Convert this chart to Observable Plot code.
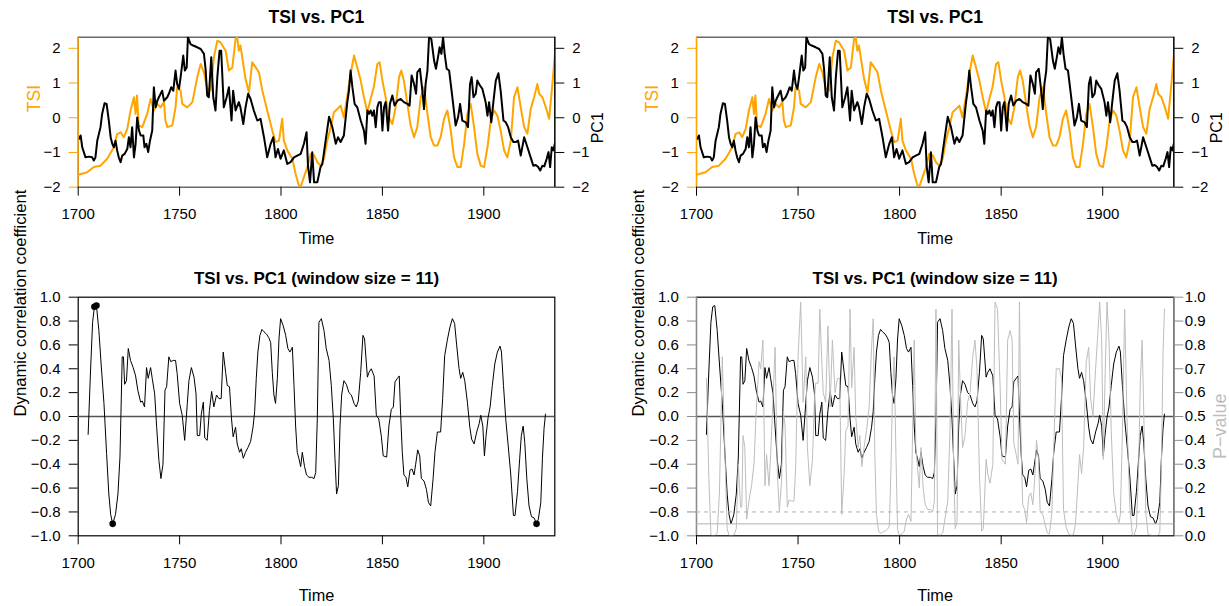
<!DOCTYPE html>
<html><head><meta charset="utf-8">
<script src="https://cdn.jsdelivr.net/npm/d3@7"></script>
<script src="https://cdn.jsdelivr.net/npm/@observablehq/plot@0.6"></script>
<style>
body{margin:0;background:#fff;}
#root{position:relative;width:1229px;height:606px;overflow:hidden;background:#fff;}
</style></head><body><div id="root"></div>
<script>
// ---------- data ----------
const tsiYears=[1700,1704.4,1707.7,1711,1714.3,1717.6,1719.2,1721,1722.5,1724.2,1725.8,1727.5,1728.3,1729,1729.8,1731.6,1734,1735.7,1737.3,1739,1740.6,1742.3,1743,1744,1746.4,1748,1748.8,1750.5,1751.3,1753.8,1756.3,1758.7,1760.4,1762,1763.5,1765.3,1766.9,1768.6,1770.2,1772.7,1774.3,1776,1777.6,1778.4,1779.2,1780,1782.5,1784.2,1785.8,1787.5,1789.1,1790.8,1793.2,1795.7,1797.3,1799,1800.6,1801.4,1803.1,1805.6,1807.2,1808.8,1809.7,1811.3,1813,1814.6,1816.3,1817.9,1819.5,1821.2,1822.8,1824.5,1826.1,1827.8,1829.4,1831,1832.7,1834.3,1836,1837.6,1839.3,1840.9,1842.6,1844.2,1845.8,1847.5,1848.6,1850,1851.6,1853.2,1854.9,1856.5,1858.2,1859.3,1860.6,1862.3,1863.9,1865.6,1867.2,1868.9,1870.5,1872.2,1873.8,1875.5,1877.1,1878.7,1880.4,1882,1883.7,1885.3,1887,1888.6,1890.3,1891.9,1893.5,1895.2,1896.8,1898.5,1900.1,1901.8,1903.4,1905.1,1906.7,1908.3,1910,1911.6,1913.3,1914.9,1916.6,1918.2,1919.9,1921.5,1923.1,1924.8,1926.4,1927.3,1928.9,1930.6,1932.2,1933.8,1935];
const tsiValues=[-1.64,-1.57,-1.42,-1.38,-1.18,-0.85,-0.47,-0.42,-0.56,-0.32,0.21,0.59,0.11,0.64,-0.22,-0.27,0.11,0.54,0.21,0.40,0.30,0.45,-0.08,-0.27,-0.22,0.30,0.88,0.78,0.40,0.30,0.45,1.17,1.55,1.31,0.86,0.78,1.74,2.22,2.17,1.93,1.36,1.45,2.27,2.32,1.93,2.08,1.12,0.73,1.60,1.45,1.31,0.78,0.21,-0.37,-0.70,-0.66,-0.03,-0.66,-0.94,-1.18,-1.62,-1.95,-1.98,-1.71,-1.42,-1.04,-1.08,-1.28,-1.38,-1.18,-0.66,-0.27,0.16,0.25,0.35,0.01,0.64,1.26,1.79,1.45,1.07,0.59,0.16,0.55,0.90,1.55,1.60,1.07,0.59,0.01,-0.18,0.30,1.17,1.36,1.07,0.40,-0.22,-0.56,-0.27,0.59,0.88,0.11,-0.56,-0.80,-0.80,-0.56,-0.03,0.21,-0.37,-1.14,-1.42,-1.42,-0.75,0.11,0.40,-0.27,-1.04,-1.38,-1.42,-0.85,-0.08,0.21,0.06,-0.37,-0.94,-1.14,-0.66,0.59,0.88,0.30,-0.27,-0.46,0.25,0.59,0.97,0.69,0.59,0.30,-0.03,0.97,1.79];
const pc1Years=[1700.3,1701.2,1702,1703.6,1705.3,1706.9,1707.7,1708.5,1709.4,1711,1711.8,1713,1714,1715.1,1716,1716.8,1717.6,1718.4,1719.2,1720,1720.9,1721.7,1722.9,1724.2,1725,1725.8,1726.6,1727.5,1728.3,1729.1,1730,1730.8,1732.1,1732.7,1733.6,1734.5,1735.4,1736.5,1737.3,1738.2,1739,1739.8,1741.4,1742.3,1743.9,1744.7,1745.9,1746.9,1748,1748.8,1749.7,1750.5,1751.8,1752.6,1753.5,1754.1,1755.4,1756.7,1758.7,1760.4,1762,1762.8,1763.6,1764.4,1765.6,1766.6,1767.7,1768.6,1769.7,1770.5,1771.8,1773.2,1774.3,1775.6,1776.4,1777.6,1779.2,1780,1781.4,1782.5,1783.8,1785,1786.6,1788.3,1789.9,1791.6,1793.2,1794.9,1796.2,1797.3,1798.5,1799.8,1801.4,1803.1,1804.7,1806.4,1808,1809.7,1811.3,1812.6,1813.3,1814.3,1815.4,1816.3,1817.9,1819.5,1820.4,1822,1823.7,1825.3,1827,1828.1,1829.4,1831,1832.7,1833.5,1834.3,1835.2,1836.3,1837.6,1839.3,1840.9,1841.7,1842.6,1843.4,1844.2,1845,1845.8,1846.7,1847.5,1848.3,1849.2,1850,1850.8,1851.6,1852.8,1853.7,1854.9,1856,1857.4,1859,1860.6,1862.3,1863.4,1864.4,1865.6,1866.6,1867.2,1868.5,1869.7,1870.5,1871.3,1872.2,1873,1874.1,1875.5,1876.4,1877.4,1878.2,1879.1,1879.9,1880.7,1881.7,1882.9,1884.5,1886.1,1887.3,1888.3,1889.4,1891.1,1892.2,1893.2,1894,1894.9,1896,1896.8,1898.1,1899.3,1900.9,1901.8,1902.6,1903.7,1904.7,1905.9,1907.2,1908.3,1909.7,1910.8,1912,1913.3,1914.6,1915.7,1916.9,1918.2,1919.9,1921.5,1923.1,1924.4,1925.6,1926.8,1927.8,1928.9,1929.8,1931,1931.9,1932.7,1933.5,1934.3,1935];
const pc1Values=[-0.61,-0.51,-0.85,-1.14,-1.12,-1.14,-1.23,-1.14,-0.66,-0.27,0.11,0.42,0.40,-0.08,-0.56,-0.75,-0.85,-0.66,-0.94,-1.14,-1.28,-1.09,-1.04,-0.90,-0.56,-0.85,-0.27,-1.14,-0.75,0.01,-0.37,-0.51,-0.51,-0.85,-0.75,-0.99,-0.66,-0.37,0.88,0.30,0.49,0.59,0.78,0.49,0.59,0.69,0.88,0.78,1.36,0.97,0.83,1.17,1.79,1.36,1.45,2.32,2.12,2.08,2.03,1.98,1.84,1.41,0.64,0.59,1.74,0.59,0.21,1.17,1.93,1.93,0.30,0.59,0.88,-0.08,0.78,0.21,0.45,0.30,-0.18,0.30,0.69,0.54,0.21,-0.08,-0.03,-0.56,-1.14,-0.75,-0.56,-1.14,-0.90,-1.18,-0.94,-1.33,-1.28,-1.14,-1.09,-1.04,-0.75,-0.42,-1.38,-1.86,-0.99,-1.86,-1.86,-1.42,-1.33,-0.66,0.03,-0.27,-0.75,-0.56,-0.70,-0.51,0.45,0.78,1.36,0.88,0.40,0.30,-0.08,-0.37,-0.75,0.21,0.11,0.21,0.06,0.21,-0.27,0.30,0.45,0.45,-0.37,0.30,0.45,-0.37,0.40,0.64,0.35,0.49,0.54,0.45,0.40,0.35,1.22,0.97,0.69,1.31,1.41,0.78,0.25,0.97,1.36,2.32,2.27,1.64,1.41,1.74,2.03,1.84,2.32,1.84,1.41,1.36,0.59,-0.22,0.01,0.40,-0.08,-0.13,-0.27,0.97,1.17,0.59,0.69,1.07,0.93,0.83,0.45,0.06,0.45,-0.13,0.45,1.07,1.28,0.78,-0.08,-0.13,-0.27,-0.56,-0.70,-0.70,-0.66,-1.09,-0.56,-0.85,-1.14,-1.38,-1.36,-1.42,-1.52,-1.38,-1.40,-1.18,-0.99,-1.42,-0.85,-0.94,-0.75];
const corYears=[1704.9,1706.1,1707.1,1708,1709,1710.2,1711.3,1712.7,1714,1715.1,1716,1717,1718.4,1719.6,1720.6,1721.7,1722.3,1722.9,1723.8,1724.7,1725.8,1727.1,1728.3,1729.4,1730.8,1731.6,1732.7,1733.7,1734.5,1735.7,1736.5,1737.7,1738.7,1739.8,1740.8,1741.8,1742.8,1743.6,1744.7,1745.6,1746.9,1748,1748.8,1750,1751.3,1752.5,1753.8,1754.6,1755.8,1757.1,1758.1,1758.7,1759.9,1760.7,1761.7,1762.4,1763.6,1764.7,1765.8,1766.9,1768.2,1769.4,1770.5,1771.5,1772.7,1773.5,1774.6,1775.6,1776.4,1777.6,1778.4,1779.6,1780.4,1781.4,1782.5,1783.7,1785,1786.2,1787,1787.8,1788.6,1789.6,1790.6,1791.6,1792.9,1794,1794.9,1795.7,1796.5,1797.3,1798.2,1799,1799.8,1801.1,1802.3,1803.4,1804.4,1805.6,1806.4,1807.2,1808,1808.8,1809.7,1810.5,1811.6,1812.6,1813.8,1815.1,1816.3,1817.1,1817.9,1818.7,1819.9,1821.2,1822.3,1823.7,1824.8,1825.8,1826.6,1827.4,1828.3,1829.1,1829.9,1831,1832.2,1833.5,1834.7,1836,1837.1,1838.1,1839.3,1840.4,1841.2,1842.6,1843.4,1844.5,1845.9,1847,1848.2,1849.5,1850.4,1852.1,1853.2,1854.4,1855.4,1856.2,1857.4,1858.3,1859,1859.8,1860.6,1861.6,1862.5,1863.6,1864.6,1865.6,1866.4,1867.4,1868.4,1869.2,1870.5,1871.7,1872.7,1873.8,1875,1875.9,1877.1,1878.7,1879.7,1880.7,1882,1883.3,1884.5,1885.6,1886.6,1887.8,1888.6,1889.6,1890.6,1891.9,1893.1,1894,1895.2,1896.5,1897.7,1898.5,1899.5,1900.3,1901.1,1902.1,1903.1,1904.2,1905.4,1906.7,1908,1908.7,1909.7,1910.8,1912,1913.3,1914.6,1915.4,1916.6,1917.7,1918.5,1919.4,1920.2,1921.2,1922.3,1923.5,1924.8,1926,1926.9,1928.1,1928.9,1929.7,1930.4];
const corValues=[-0.15,0.39,0.79,0.92,0.93,0.72,0.44,0.11,-0.31,-0.65,-0.82,-0.90,-0.82,-0.65,-0.34,0.50,0.50,0.27,0.30,0.57,0.47,0.41,0.34,0.22,0.12,0.13,0.08,0.41,0.32,0.41,0.32,0.19,-0.09,-0.37,-0.52,-0.40,0.22,0.25,0.50,0.46,0.47,0.47,0.36,0.11,0.01,-0.20,0.11,0.30,0.41,0.33,0.19,-0.16,-0.16,0.02,0.12,-0.18,-0.20,0.05,0.21,0.08,0.18,0.15,0.15,0.54,0.37,0.26,0.25,-0.02,-0.17,-0.09,-0.23,-0.30,-0.27,-0.35,-0.30,-0.26,-0.21,-0.09,0.04,0.32,0.54,0.68,0.73,0.71,0.69,0.66,0.62,0.37,0.18,0.11,0.32,0.65,0.82,0.76,0.68,0.57,0.54,0.58,0.26,-0.08,-0.30,-0.35,-0.42,-0.30,-0.42,-0.49,-0.51,-0.51,-0.52,-0.47,-0.02,0.79,0.82,0.72,0.57,0.47,0.26,-0.02,-0.35,-0.65,-0.58,-0.08,0.18,0.30,0.27,0.20,0.18,0.11,0.08,0.13,0.37,0.68,0.65,0.33,0.37,0.40,0.34,0.01,-0.02,-0.17,-0.33,-0.34,-0.08,0.06,0.08,0.29,0.32,0.34,0.01,-0.30,-0.49,-0.51,-0.59,-0.45,-0.44,-0.49,-0.40,-0.28,-0.33,-0.52,-0.54,-0.61,-0.72,-0.75,-0.52,-0.30,-0.13,-0.13,0.15,0.51,0.64,0.75,0.82,0.78,0.60,0.40,0.32,0.37,0.30,0.12,-0.09,-0.19,-0.23,-0.13,-0.06,0.01,-0.08,-0.33,-0.16,-0.01,0.08,0.26,0.44,0.54,0.59,0.54,0.26,-0.02,-0.24,-0.49,-0.83,-0.83,-0.63,-0.35,-0.16,-0.08,-0.22,-0.52,-0.75,-0.84,-0.85,-0.90,-0.86,-0.72,-0.35,-0.10,0.02];
const pValues=[0.66,0.24,0.004,0.0002,0.0001,0.012,0.18,0.75,0.35,0.03,0.002,0.0003,0.002,0.03,0.30,0.12,0.12,0.42,0.37,0.07,0.145,0.21,0.30,0.52,0.73,0.70,0.82,0.21,0.34,0.21,0.34,0.58,0.79,0.26,0.10,0.22,0.52,0.46,0.12,0.15,0.145,0.145,0.28,0.75,0.98,0.56,0.75,0.37,0.21,0.32,0.58,0.64,0.64,0.95,0.73,0.60,0.56,0.88,0.54,0.82,0.60,0.66,0.66,0.09,0.26,0.44,0.46,0.95,0.62,0.79,0.50,0.37,0.42,0.29,0.37,0.44,0.54,0.79,0.91,0.34,0.09,0.02,0.01,0.015,0.02,0.027,0.04,0.26,0.60,0.75,0.34,0.03,0.002,0.007,0.02,0.07,0.09,0.06,0.44,0.82,0.37,0.29,0.20,0.37,0.20,0.13,0.11,0.11,0.10,0.145,0.95,0.004,0.002,0.012,0.07,0.145,0.44,0.95,0.29,0.03,0.06,0.82,0.60,0.37,0.42,0.56,0.60,0.75,0.82,0.70,0.26,0.02,0.03,0.32,0.26,0.22,0.30,0.98,0.95,0.62,0.32,0.30,0.82,0.86,0.82,0.39,0.34,0.30,0.98,0.37,0.13,0.11,0.055,0.165,0.18,0.13,0.22,0.40,0.32,0.10,0.09,0.045,0.012,0.008,0.10,0.37,0.70,0.70,0.66,0.11,0.035,0.008,0.002,0.005,0.05,0.22,0.34,0.26,0.37,0.73,0.79,0.58,0.50,0.70,0.86,0.98,0.82,0.32,0.64,0.98,0.82,0.44,0.18,0.09,0.055,0.09,0.44,0.95,0.48,0.13,0.002,0.002,0.035,0.29,0.64,0.82,0.52,0.10,0.008,0.002,0.001,0.0003,0.001,0.012,0.29,0.77,0.95];
const extremeYears=[1708,1709,1717,1926];
const extremeValues=[0.92,0.93,-0.90,-0.90];
const pThresholdDashed=[0.1];
const pThresholdSolid=[0.05];
const zeroLine=[0];
const xDomain=[1700,1935];
const xTicks=[1700,1750,1800,1850,1900];
const topDomain=[-2,2.32];
const topTicks=[-2,-1,0,1,2];
const corDomain=[-1,1];
const corTicks=[-1,-0.8,-0.6,-0.4,-0.2,0,0.2,0.4,0.6,0.8,1];
const pDomain=[0,1];
const pTicks=[0,0.1,0.2,0.3,0.4,0.5,0.6,0.7,0.8,0.9,1];
const titleTop="TSI vs. PC1";
const titleBottom="TSI vs. PC1 (window size = 11)";
const xLabel="Time", tsiLabel="TSI", pc1Label="PC1", corLabel="Dynamic correlation coefficient", pLabel="P\u2212value";

// ---------- build ----------
const FONT='"Liberation Sans", Arial, Helvetica, sans-serif';
const ORANGE="#FFA500";
const minus=s=>String(s).replace("-","\u2212");
const tsi=tsiYears.map((y,i)=>({year:y,value:tsiValues[i]}));
const pc1=pc1Years.map((y,i)=>({year:y,value:pc1Values[i]}));
const cor=corYears.map((y,i)=>({year:y,value:corValues[i]}));
const pv=corYears.map((y,i)=>({year:y,value:pValues[i]}));
const ext=extremeYears.map((y,i)=>({year:y,value:extremeValues[i]}));
const root=document.getElementById("root");

function place(svg,left,top){svg.style.position="absolute";svg.style.left=left+"px";svg.style.top=top+"px";root.appendChild(svg);}

function makePlot(geom,yDomain,marks,transparent){
  return Plot.plot({
    width:geom.w,height:geom.h,marginLeft:geom.ml,marginRight:geom.mr,marginTop:geom.mt,marginBottom:geom.mb,
    x:{domain:xDomain,axis:null},y:{domain:yDomain,axis:null},
    style:{fontFamily:FONT,fontSize:"15px",background:transparent?"none":"white",overflow:"visible",color:"black"},
    marks
  });
}
const xAxis=()=>Plot.axisX({ticks:xTicks,anchor:"bottom",tickSize:9,tickPadding:12.5,stroke:"black",fill:"black",fontSize:15,label:null,tickFormat:d=>String(d)});
const titleMark=(t,dy,fs)=>Plot.text([t],{text:d=>d,frameAnchor:"top",dy,fontWeight:"bold",fontSize:fs,fill:"black",lineAnchor:"middle"});
const timeMark=(dy)=>Plot.text([xLabel],{text:d=>d,frameAnchor:"bottom",dy,fontSize:16.3,fill:"black",lineAnchor:"middle"});

function topPanel(left,geom){
  const svg=makePlot(geom,topDomain,[
    Plot.frame({stroke:"#444",strokeWidth:1.2}),
    Plot.line(tsi,{x:"year",y:"value",stroke:ORANGE,strokeWidth:2,clip:true}),
    Plot.line(pc1,{x:"year",y:"value",stroke:"black",strokeWidth:2,clip:true}),
    Plot.ruleX([xDomain[0]],{stroke:ORANGE,strokeWidth:1.2}),
    Plot.ruleX([xDomain[1]],{stroke:"black",strokeWidth:1.2}),
    Plot.axisY({ticks:topTicks,anchor:"left",tickSize:9,tickPadding:8.7,stroke:ORANGE,fill:"black",fontSize:15,label:null,tickFormat:minus}),
    Plot.axisY({ticks:topTicks,anchor:"right",tickSize:9,tickPadding:8.4,stroke:"black",fill:"black",fontSize:15,label:null,tickFormat:minus,textAnchor:"start"}),
    xAxis(),
    titleMark(titleTop,-19.7,17.6),
    timeMark(51.3),
    Plot.text([tsiLabel],{text:d=>d,frameAnchor:"left",dx:-43.7,rotate:-90,fill:ORANGE,fontSize:17.5,lineAnchor:"middle"}),
    Plot.text([pc1Label],{text:d=>d,frameAnchor:"right",dx:42.7,rotate:-90,fill:"black",fontSize:16,lineAnchor:"middle"})
  ]);
  place(svg,left,0);
}
function corMarks(axisColor,withDots){
  const m=[
    Plot.frame({stroke:"black",strokeWidth:1.2}),
    Plot.ruleY(zeroLine,{stroke:"#555",strokeWidth:1.4}),
    Plot.line(cor,{x:"year",y:"value",stroke:"black",strokeWidth:1,clip:true}),
  ];
  if(withDots) m.push(Plot.dot(ext,{x:"year",y:"value",r:3.3,fill:"black",stroke:"none"}));
  if(axisColor!=="black") m.push(Plot.ruleX([xDomain[0]],{stroke:axisColor,strokeWidth:1.2}));
  m.push(
    Plot.axisY({ticks:corTicks,anchor:"left",tickSize:9,tickPadding:8.7,stroke:axisColor,fill:"black",fontSize:15,label:null,tickFormat:d=>minus(d.toFixed(1))}),
    xAxis(),
    titleMark(titleBottom,-18.4,17),
    timeMark(59.7),
    Plot.text([corLabel],{text:d=>d,frameAnchor:"left",dx:-57.7,rotate:-90,fill:"black",fontSize:16.7,lineAnchor:"middle"})
  );
  return m;
}
const geomTL={w:614,h:260,ml:77.7,mr:59.7,mt:36.7,mb:73.3};
const geomTR={w:615,h:260,ml:82,mr:55.7,mt:36.7,mb:73.3};
const geomBL={w:614,h:346,ml:77.7,mr:59.7,mt:36.7,mb:70.7};
const geomBR={w:615,h:346,ml:82,mr:55.7,mt:36.7,mb:70.7};

topPanel(0,geomTL);
topPanel(614,geomTR);
place(makePlot(geomBL,corDomain,corMarks("black",true)),0,260);
place(makePlot(geomBR,corDomain,corMarks("#8c8c8c",false)),614,260);
// p-value overlay (own y scale)
place(makePlot(geomBR,pDomain,[
  Plot.ruleY(pThresholdDashed,{stroke:"#b0b0b0",strokeWidth:1,strokeDasharray:"4,4"}),
  Plot.ruleY(pThresholdSolid,{stroke:"#b0b0b0",strokeWidth:1}),
  Plot.line(pv,{x:"year",y:"value",stroke:"#bdbdbd",strokeWidth:1,clip:true}),
  Plot.ruleX([xDomain[1]],{stroke:"#8c8c8c",strokeWidth:1.2}),
  Plot.axisY({ticks:pTicks,anchor:"right",tickSize:9,tickPadding:2,stroke:"#8c8c8c",fill:"black",fontSize:15,label:null,tickFormat:d=>d.toFixed(1),textAnchor:"start"}),
  Plot.text([pLabel],{text:d=>d,frameAnchor:"right",dx:46.7,dy:-23,rotate:-90,fill:"#bdbdbd",fontSize:18,lineAnchor:"middle"})
],true),614,260);
</script></body></html>
